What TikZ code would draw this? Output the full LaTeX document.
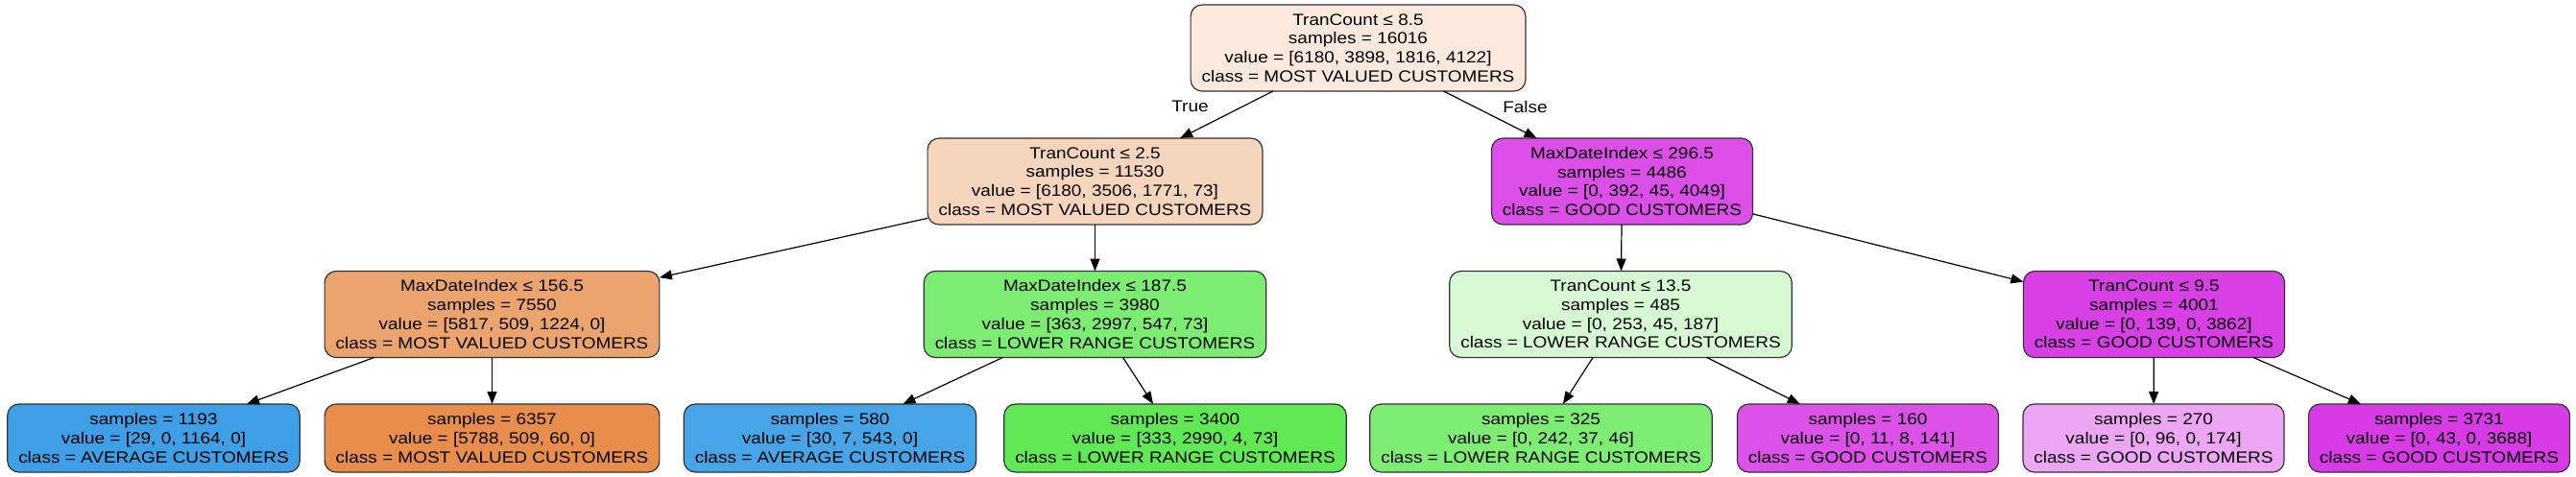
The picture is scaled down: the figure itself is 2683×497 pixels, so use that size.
\documentclass[tikz,border=0pt]{standalone}
\usepackage{fontspec}
\setmainfont{Liberation Sans}[FakeStretch=1.13]
\usetikzlibrary{arrows.meta}

% class colours, mixed with white by purity
\definecolor{rootfill}{RGB}{251,233,221}
\definecolor{mvA}{RGB}{246,213,189}
\definecolor{mvB}{RGB}{236,164,111}
\definecolor{mvC}{RGB}{232,141,76}
\definecolor{grA}{RGB}{124,236,114}
\definecolor{grB}{RGB}{214,249,211}
\definecolor{grC}{RGB}{96,233,84}
\definecolor{grD}{RGB}{126,237,116}
\definecolor{blA}{RGB}{62,159,230}
\definecolor{blB}{RGB}{70,164,231}
\definecolor{gdA}{RGB}{219,78,232}
\definecolor{gdB}{RGB}{216,64,230}
\definecolor{gdC}{RGB}{220,82,232}
\definecolor{gdD}{RGB}{237,166,243}
\definecolor{gdE}{RGB}{215,59,229}

\begin{document}
\begin{tikzpicture}[x=1pt, y=-1pt, >={Triangle[length=13pt,width=10pt]},
  box/.style={draw=black!80, line width=1.2pt, rounded corners=12pt, align=center,
    inner xsep=11.5pt, inner ysep=0pt, minimum height=90pt, outer sep=0pt,
    font=\fontsize{16.8}{19.8}\selectfont},
  leaf/.style={box, minimum height=71pt},
  edge/.style={->, line width=1.2pt},
  lbl/.style={font=\fontsize{16.8}{19.8}\selectfont}]
  \useasboundingbox (0,0) rectangle (2683,497);
  % root and first split
  \node[box, fill=rootfill] (n0) at (1414.5,50) {TranCount ≤ 8.5\\samples = 16016\\value = [6180, 3898, 1816, 4122]\\class = MOST VALUED CUSTOMERS};
  \node[box, fill=mvA] (n1) at (1140.5,189) {TranCount ≤ 2.5\\samples = 11530\\value = [6180, 3506, 1771, 73]\\class = MOST VALUED CUSTOMERS};
  \node[box, fill=gdA] (n8) at (1689.5,189) {MaxDateIndex ≤ 296.5\\samples = 4486\\value = [0, 392, 45, 4049]\\class = GOOD CUSTOMERS};
  % second level
  \node[box, fill=mvB] (n2) at (512.5,327.5) {MaxDateIndex ≤ 156.5\\samples = 7550\\value = [5817, 509, 1224, 0]\\class = MOST VALUED CUSTOMERS};
  \node[box, fill=grA] (n5) at (1140.5,327.5) {MaxDateIndex ≤ 187.5\\samples = 3980\\value = [363, 2997, 547, 73]\\class = LOWER RANGE CUSTOMERS};
  \node[box, fill=grB] (n9) at (1688,327.5) {TranCount ≤ 13.5\\samples = 485\\value = [0, 253, 45, 187]\\class = LOWER RANGE CUSTOMERS};
  \node[box, fill=gdB] (n12) at (2243.5,327.5) {TranCount ≤ 9.5\\samples = 4001\\value = [0, 139, 0, 3862]\\class = GOOD CUSTOMERS};
  % leaves
  \node[leaf, fill=blA] (n3) at (160,456.5) {samples = 1193\\value = [29, 0, 1164, 0]\\class = AVERAGE CUSTOMERS};
  \node[leaf, fill=mvC] (n4) at (512.5,456.5) {samples = 6357\\value = [5788, 509, 60, 0]\\class = MOST VALUED CUSTOMERS};
  \node[leaf, fill=blB] (n6) at (864.5,456.5) {samples = 580\\value = [30, 7, 543, 0]\\class = AVERAGE CUSTOMERS};
  \node[leaf, fill=grC] (n7) at (1224,456.5) {samples = 3400\\value = [333, 2990, 4, 73]\\class = LOWER RANGE CUSTOMERS};
  \node[leaf, fill=grD] (n10) at (1605,456.5) {samples = 325\\value = [0, 242, 37, 46]\\class = LOWER RANGE CUSTOMERS};
  \node[leaf, fill=gdC] (n11) at (1945.5,456.5) {samples = 160\\value = [0, 11, 8, 141]\\class = GOOD CUSTOMERS};
  \node[leaf, fill=gdD] (n13) at (2243,456.5) {samples = 270\\value = [0, 96, 0, 174]\\class = GOOD CUSTOMERS};
  \node[leaf, fill=gdE] (n14) at (2540.5,456.5) {samples = 3731\\value = [0, 43, 0, 3688]\\class = GOOD CUSTOMERS};
  % edges
  \draw[edge] (n0) -- (n1);
  \draw[edge] (n0) -- (n8);
  \draw[edge] (n1) -- (n2);
  \draw[edge] (n1) -- (n5);
  \draw[edge] (n2) -- (n3);
  \draw[edge] (n2) -- (n4);
  \draw[edge] (n5) -- (n6);
  \draw[edge] (n5) -- (n7);
  \draw[edge] (n8) -- (n9);
  \draw[edge] (n8) -- (n12);
  \draw[edge] (n9) -- (n10);
  \draw[edge] (n9) -- (n11);
  \draw[edge] (n12) -- (n13);
  \draw[edge] (n12) -- (n14);
  % branch labels
  \node[lbl] (truelbl) at (1239.5,111) {True};
  \node[lbl] (falselbl) at (1588.5,111) {False};
\end{tikzpicture}
\end{document}
